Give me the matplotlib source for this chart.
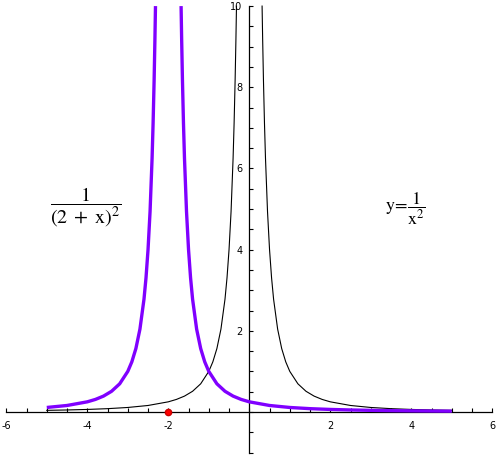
import matplotlib
matplotlib.use("Agg")
import matplotlib.pyplot as plt
import numpy as np

plt.rcParams['mathtext.fontset'] = 'stix'

# black curve y = 1/x^2
black_left_x = [-5, -4.5, -4, -3.5, -3, -2.5, -2, -1.8, -1.6, -1.4, -1.2, -1.0, -0.9, -0.8,
                -0.7, -0.6, -0.55, -0.5, -0.45, -0.4, -0.375, -0.35, -0.33, -0.316]
black_left_y = [0.04, 0.0494, 0.0625, 0.0816, 0.111, 0.16, 0.25, 0.309, 0.391, 0.510, 0.694,
                1.0, 1.235, 1.5625, 2.041, 2.778, 3.306, 4.0, 4.938, 6.25, 7.111, 8.163, 9.183, 10.0]
black_right_x = [0.316, 0.33, 0.35, 0.375, 0.4, 0.45, 0.5, 0.55, 0.6, 0.7, 0.8, 0.9, 1.0,
                 1.2, 1.4, 1.6, 1.8, 2.0, 2.5, 3.0, 3.5, 4.0, 4.5, 5.0]
black_right_y = [10.0, 9.183, 8.163, 7.111, 6.25, 4.938, 4.0, 3.306, 2.778, 2.041, 1.5625,
                 1.235, 1.0, 0.694, 0.510, 0.391, 0.309, 0.25, 0.16, 0.111, 0.0816, 0.0625,
                 0.0494, 0.04]

# purple curve y = 1/(2+x)^2
purple_left_x = [-5, -4.5, -4, -3.8, -3.6, -3.4, -3.2, -3.0, -2.9, -2.8, -2.7, -2.6, -2.55,
                 -2.5, -2.45, -2.4, -2.375, -2.35, -2.33, -2.316]
purple_left_y = [0.111, 0.16, 0.25, 0.309, 0.391, 0.510, 0.694, 1.0, 1.235, 1.5625, 2.041,
                 2.778, 3.306, 4.0, 4.938, 6.25, 7.111, 8.163, 9.183, 10.0]
purple_right_x = [-1.684, -1.67, -1.65, -1.625, -1.6, -1.55, -1.5, -1.45, -1.4, -1.3, -1.2,
                  -1.1, -1.0, -0.8, -0.6, -0.4, -0.2, 0.0, 0.5, 1.0, 1.5, 2.0, 2.5, 3.0,
                  3.5, 4.0, 4.5, 5.0]
purple_right_y = [10.0, 9.183, 8.163, 7.111, 6.25, 4.938, 4.0, 3.306, 2.778, 2.041, 1.5625,
                  1.235, 1.0, 0.694, 0.510, 0.391, 0.309, 0.25, 0.16, 0.111, 0.0816, 0.0625,
                  0.0494, 0.04, 0.0331, 0.0278, 0.0237, 0.0204]

point_x = [-2]
point_y = [0]

x_tick_labels = [-6, -4, -2, 2, 4, 6]
y_tick_labels = [2, 4, 6, 8, 10]

fig = plt.figure(figsize=(4.97, 4.55), dpi=100)
ax = fig.add_axes([0, 0, 1, 1])
ax.set_xlim(-6.155, 6.116)
ax.set_ylim(-1.06, 10.15)

purple = '#8000ff'
ax.plot(black_left_x, black_left_y, color='black', lw=0.8, zorder=2)
ax.plot(black_right_x, black_right_y, color='black', lw=0.8, zorder=2)
ax.plot(purple_left_x, purple_left_y, color=purple, lw=2.4, zorder=3, solid_capstyle='butt')
ax.plot(purple_right_x, purple_right_y, color=purple, lw=2.4, zorder=3, solid_capstyle='butt')
ax.plot(point_x, point_y, 'o', color='#ff0000', ms=4.5, mec='#cc0000', zorder=4, clip_on=False)

for s in ['top', 'right']:
    ax.spines[s].set_visible(False)
ax.spines['left'].set_position(('data', 0))
ax.spines['bottom'].set_position(('data', 0))
ax.spines['left'].set_bounds(-1, 10)
ax.spines['bottom'].set_bounds(-6, 6)
ax.spines['left'].set_linewidth(0.9)
ax.spines['bottom'].set_linewidth(0.9)

ax.set_xticks(x_tick_labels)
ax.set_xticklabels([f'{v}' for v in x_tick_labels])
ax.set_xticks(np.arange(-6, 6.01, 0.5), minor=True)
ax.set_yticks(y_tick_labels)
ax.set_yticklabels([f'{v}' for v in y_tick_labels])
ax.set_yticks(np.arange(-1, 10.01, 0.5), minor=True)
ax.tick_params(axis='both', which='both', direction='in', length=3, width=0.8,
               labelsize=7, pad=5)
ax.tick_params(axis='x', which='major', pad=6.5)
ax.tick_params(axis='y', which='major', pad=5)

fig.text(86/497, 1 - 207/455, r'$\dfrac{1}{(2\;+\;\mathrm{x})^{2}}$', ha='center', va='center',
         fontsize=14.5)
fig.text(405/497, 1 - 209/455, r'$\mathrm{y}\!=\!\dfrac{1}{\mathrm{x}^{2}}$', ha='center',
         va='center', fontsize=13)

fig.savefig('out.png', dpi=100)
